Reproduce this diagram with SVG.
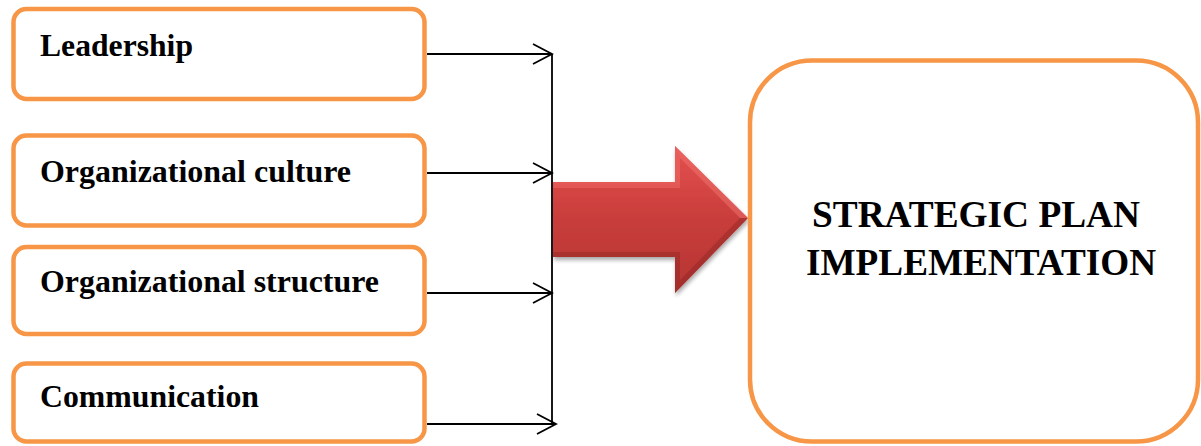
<svg xmlns="http://www.w3.org/2000/svg" width="1201" height="446" viewBox="0 0 1201 446">
<style>
.box{fill:#fff;stroke:#f79646;stroke-width:4.5}
.lbl{font-family:"Liberation Serif","Times New Roman",serif;font-weight:bold;font-size:31px;fill:#000}
.big{font-family:"Liberation Serif","Times New Roman",serif;font-weight:bold;font-size:37px;fill:#000}
.con{fill:none;stroke:#000;stroke-width:1.8}
</style>
<defs>
<marker id="open" markerWidth="22" markerHeight="24" refX="20" refY="11" orient="auto" markerUnits="userSpaceOnUse">
<path d="M1,1 L20,11 L1,21" fill="none" stroke="#000" stroke-width="1.8"/>
</marker>
<linearGradient id="red" x1="0" y1="0" x2="0" y2="1">
<stop offset="0" stop-color="#e5514f"/>
<stop offset="0.5" stop-color="#c83d3b"/>
<stop offset="1" stop-color="#b63533"/>
</linearGradient>
<filter id="sh" x="-10%" y="-10%" width="130%" height="130%">
<feGaussianBlur in="SourceAlpha" stdDeviation="2"/>
<feOffset dx="1" dy="3"/>
<feComponentTransfer><feFuncA type="linear" slope="0.35"/></feComponentTransfer>
<feMerge><feMergeNode/><feMergeNode in="SourceGraphic"/></feMerge>
</filter>
</defs>
<rect width="1201" height="446" fill="#fff"/>
<g id="node-leadership">
<rect class="box" x="13.5" y="9" width="411" height="90" rx="13"/>
<text class="lbl" x="40" y="56" textLength="153" lengthAdjust="spacingAndGlyphs">Leadership</text>
</g>
<g id="node-culture">
<rect class="box" x="13.5" y="135.5" width="411" height="90" rx="13"/>
<text class="lbl" x="40" y="182" textLength="311" lengthAdjust="spacingAndGlyphs">Organizational culture</text>
</g>
<g id="node-structure">
<rect class="box" x="13.5" y="247" width="411" height="87" rx="13"/>
<text class="lbl" x="40" y="292" textLength="339" lengthAdjust="spacingAndGlyphs">Organizational structure</text>
</g>
<g id="node-communication">
<rect class="box" x="13.5" y="363.5" width="411" height="78" rx="13"/>
<text class="lbl" x="40" y="407" textLength="219" lengthAdjust="spacingAndGlyphs">Communication</text>
</g>
<g id="connectors">
<line class="con" x1="552" y1="54" x2="552" y2="424"/>
<line class="con" x1="427" y1="54" x2="552" y2="54" marker-end="url(#open)"/>
<line class="con" x1="427" y1="173" x2="552" y2="173" marker-end="url(#open)"/>
<line class="con" x1="427" y1="293" x2="552" y2="293" marker-end="url(#open)"/>
<line class="con" x1="427" y1="424" x2="556" y2="424" marker-end="url(#open)"/>
</g>
<g id="big-arrow" filter="url(#sh)">
<path d="M553,182 L675,182 L675,146 L748,218 L675,293 L675,257 L553,257 Z" fill="url(#red)"/>
<path d="M553,182 L675,182 L675,146 L680,158 L680,188 L553,188 Z" fill="#ee6a66" opacity="0.55"/>
<path d="M675,146 L748,218 L740,218 L680,158 Z" fill="#f07370" opacity="0.5"/>
<path d="M553,252 L680,252 L680,280 L740,218 L748,218 L675,293 L675,257 L553,257 Z" fill="#8e2624" opacity="0.45"/>
</g>
<g id="node-implementation">
<rect class="box" x="750" y="60.5" width="448" height="381" rx="62"/>
<text class="big" x="976" y="227" text-anchor="middle" textLength="328" lengthAdjust="spacingAndGlyphs">STRATEGIC PLAN</text>
<text class="big" x="981" y="275" text-anchor="middle" textLength="350" lengthAdjust="spacingAndGlyphs">IMPLEMENTATION</text>
</g>
</svg>
